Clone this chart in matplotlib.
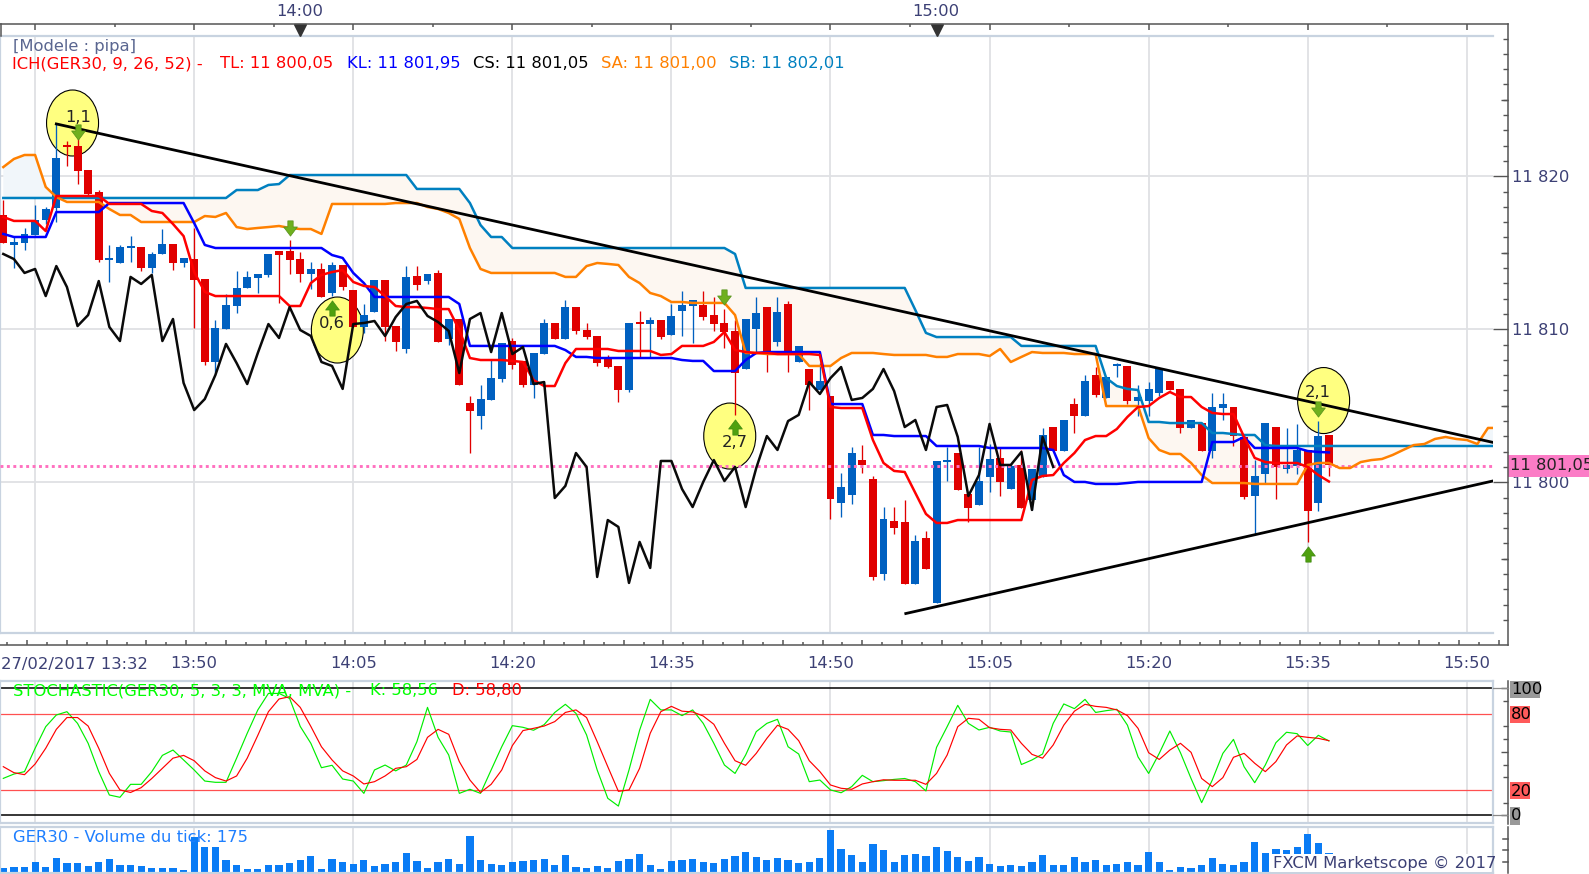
import numpy as np
import matplotlib
matplotlib.use("Agg")
import matplotlib.pyplot as plt
from matplotlib.lines import Line2D
from matplotlib.patches import Ellipse, Rectangle
from matplotlib.path import Path

plt.rcParams['font.family'] = ['DejaVu Sans']

W, H = 1589, 874
BASE = 11800

# Candles (points above 11 800); index 0 = 13:32, one bar per minute
opens = [17.47,15.51,15.64,16.16,17.14,17.93,21.98,21.98,20.41,18.97,14.53,14.33,15.31,15.38,14.00,14.92,15.57,14.33,14.59,13.28,
 7.86,10.02,11.52,12.70,13.35,13.55,15.12,15.12,14.59,13.61,13.94,12.37,14.20,12.57,10.15,11.13,13.22,10.21,8.71,13.48,
 13.15,13.68,9.36,10.67,5.18,4.33,5.38,6.75,9.23,7.93,6.36,8.38,10.41,9.36,11.45,9.95,9.56,8.19,7.60,6.03,
 10.47,10.34,10.60,9.62,11.19,11.52,11.59,10.93,10.41,9.89,7.40,10.02,11.45,9.17,11.65,7.86,7.40,6.03,5.64,-1.36,
 -0.83,1.45,0.21,-6.00,-2.53,-2.60,-6.65,-3.64,-7.89,1.32,1.91,-0.77,-1.49,0.34,1.59,-0.44,1.13,-1.16,0.34,3.61,
 2.04,5.11,4.33,7.01,5.51,7.60,7.60,5.31,5.31,5.83,6.62,6.10,3.55,3.87,2.04,4.85,4.92,2.96,-0.90,0.54,
 3.61,0.87,1.06,2.11,-1.36,3.09]
closes = [15.64,15.70,16.23,17.14,17.86,21.19,21.91,20.34,18.84,14.53,14.59,15.38,15.38,14.00,14.92,15.57,14.33,14.66,13.22,7.86,
 10.08,11.59,12.70,13.42,13.61,14.92,14.85,14.53,13.61,13.94,12.11,14.20,12.76,10.15,10.93,13.22,10.15,9.17,13.42,12.89,
 13.61,9.17,10.67,6.36,4.66,5.44,6.81,9.10,7.66,6.36,8.45,10.41,9.36,11.45,9.89,9.49,7.79,7.53,6.03,10.41,
 10.34,10.60,9.49,10.87,11.59,11.91,10.80,10.34,9.82,7.14,10.67,11.06,8.51,11.13,8.51,8.91,6.36,6.62,-1.09,-0.31,
 1.91,1.13,-6.19,-2.40,-2.99,-6.65,-3.84,-5.67,1.39,1.39,-0.51,-1.68,0.08,1.52,0.02,1.06,-1.68,0.87,3.09,2.04,
 4.07,4.33,6.62,5.70,6.88,7.66,5.31,5.57,6.10,7.40,6.03,3.55,4.07,2.04,4.92,5.11,3.02,-0.96,0.41,3.87,
 1.00,1.13,2.11,-1.88,3.02,1.13]
highs = [18.45,16.03,16.62,18.12,17.99,23.41,22.30,22.83,20.41,19.10,15.51,15.51,16.09,15.38,15.05,16.55,15.57,14.66,16.62,13.28,
 10.60,12.30,13.81,13.81,13.61,14.92,15.12,15.83,15.05,14.40,14.33,14.40,14.20,12.57,11.65,13.22,13.22,10.21,14.13,14.13,
 13.61,13.87,10.67,10.67,5.64,6.36,7.99,9.10,9.43,7.93,8.45,10.67,10.41,11.91,11.45,10.41,9.56,8.32,7.60,10.41,
 11.19,10.80,10.60,11.65,12.50,11.91,12.50,12.11,11.32,10.60,10.67,12.11,11.45,12.11,11.85,8.91,7.40,7.79,5.64,0.60,
 2.30,2.43,0.41,-1.62,-1.62,-1.16,-3.45,-3.19,1.39,2.30,1.91,-0.77,2.30,2.50,2.30,1.26,2.11,0.87,3.55,3.61,
 4.07,5.51,7.01,7.53,6.88,7.79,7.60,6.36,6.55,7.40,6.62,6.10,4.07,3.87,5.83,5.83,4.92,2.96,1.45,3.87,
 3.61,3.55,3.81,2.11,4.00,3.09]
lows = [15.64,14.00,15.18,16.16,16.88,17.01,20.67,19.49,18.64,14.40,13.09,14.33,14.40,13.81,13.68,14.92,13.87,14.07,10.08,7.66,
 7.14,10.02,11.06,12.70,12.37,13.42,11.72,13.61,13.09,12.63,12.11,12.17,12.57,10.15,9.76,11.13,9.23,8.58,8.45,12.57,
 12.96,9.17,8.97,6.36,1.91,3.48,5.38,6.55,7.40,6.23,5.51,8.38,9.36,9.36,9.69,9.36,7.60,7.47,5.25,5.90,
 8.12,8.12,9.36,9.62,9.56,9.10,10.60,9.89,8.77,4.40,7.40,8.45,7.21,8.91,7.21,7.86,4.72,6.03,-2.40,-2.27,
 -1.42,0.60,-6.39,-6.39,-3.38,-6.65,-6.65,-5.67,-7.89,0.08,-0.51,-2.60,-1.49,-0.64,-0.90,-0.44,-1.68,-1.81,0.34,2.04,
 2.04,3.22,4.33,5.57,5.51,6.88,5.11,4.33,4.33,5.64,6.03,3.22,3.55,2.04,1.59,4.07,2.37,-1.09,-3.38,-0.05,
 -1.09,0.60,0.54,-3.90,-1.88,0.41]

# Ichimoku lines (points above 11 800)
tenkan = [17.34,17.08,17.08,17.08,16.42]+[18.71]*5+[18.19]*4+[17.73,17.60,16.88,16.09,13.74,12.44]+[12.17]*7+[11.52,11.52,13.02,13.55,13.74,13.87,13.09,12.83,12.76,12.17,11.52,11.45,11.45,11.39,11.32,11.32,9.95,8.12,7.99,7.99,7.99,7.93,7.86,6.68,6.29,6.29,7.79]+[8.71]*4+[8.58]*4+[8.32,8.38,8.91,8.91,8.91,9.17,9.82,8.64,8.51,8.45,8.45,8.38,8.38,8.38,8.38,8.32,4.92,4.85,4.85,4.85,2.76,1.26,0.74,0.67,-0.70,-2.07,-2.66,-2.66]+[-2.47]*7+[0.15,0.41,0.47,1.26,1.91,2.76,3.02,3.02,3.48,4.27,4.92,4.98,5.51,5.90,5.57,5.57,4.92,4.53,4.46,4.46,2.96,1.59,1.32,1.26,1.26,1.26,1.00,0.47,0.05]
kijun = [16.23]+[16.03]*4+[17.66]*5+[18.25]*8+[16.94,15.51]+[15.31]*11+[14.85,14.66,13.68,13.02]+[12.11]*8+[11.65]+[8.91]*9+[8.64,8.19,8.19,8.12]+[8.12]*7+[7.99,7.93,7.93,7.27,7.27,7.27,7.99,8.45]+[8.51]*6+[5.11]*4+[3.09,3.09]+[3.02]*4+[2.37]*5+[2.24]*6+[2.11,0.47,0.02,0.02,-0.11,-0.11,-0.11,-0.05]+[0.02]*7+[2.63,2.63,2.63,2.96]+[2.24]*5+[2.04,1.98,1.95]
chikou = [14.92,14.59,13.68,13.94,12.17,14.13,12.76,10.21,10.93,13.15,10.15,9.23,13.42,12.96,13.55,9.23,10.67,6.49,4.72,5.44,7.01,9.04,7.79,6.42,8.45,10.34,9.43,11.45,9.95,9.56,7.86,7.60,6.10,10.34,10.41,10.54,9.56,10.80,11.65,11.85,10.87,10.47,9.89,7.14,10.67,11.06,8.51,11.06,8.38,8.84,6.42,6.55,-1.03,-0.24,1.91,1.00,-6.19,-2.47,-2.92,-6.58,-3.90,-5.60,1.39,1.39,-0.44,-1.62,0.02,1.45,0.08,1.00,-1.62,0.93,3.02,2.11,4.00,4.40,6.55,5.77,6.81,7.53,5.38,5.51,6.10,7.40,5.96,3.61,4.07,2.11,4.92,5.05,2.96,-0.90,0.47,3.81,1.13,1.13,1.98,-1.81,2.96,1.00]
senkou_a = [20.60,21.13,21.39,21.39,19.30,18.64]+[18.32]*4+[17.86,17.47,17.47]+[17.01]*6+[17.40,17.34,17.60,16.68,16.55,16.62,16.68,16.75,16.62,16.55,16.55,16.23]+[18.19]*6+[18.25]*3+[17.99,17.86,17.60,17.21,15.31,13.94]+[13.68]*7+[13.42,13.42,14.13,14.33,14.27,14.20,13.42,13.02,12.37,12.17,11.78,11.78]+[11.72]*4+[10.93,8.45,8.45]+[8.38]*4+[7.60]*3+[8.12,8.45,8.45,8.45,8.38]+[8.32]*4+[8.19,8.19,8.38,8.38,8.38,8.25,8.71,7.86,8.19,8.51,8.45,8.45,8.45,8.38,8.38,8.38]+[4.98]*4+[2.89,2.11,1.85,1.85,1.26,0.47]+[-0.05]*4+[-0.11]*5+[1.13,1.26,1.26,0.93,0.93,1.32,1.45,1.52,1.78,2.11,2.43,2.50,2.83,2.96,2.83,2.76,2.50,3.55,3.55]
senkou_b = [18.58]*22+[19.10]*3+[19.43,19.49]+[20.08]*12+[19.17]*5+[18.25,16.81,16.03,16.03]+[15.31]*21+[14.92]+[12.70]*16+[11.26,9.76]+[9.49]*8+[8.91]*8+[6.81,6.29,6.10,6.03,3.94,3.94]+[3.87]*4+[3.22,3.22,3.15,3.09,3.09,2.43]+[2.37]*22

current_price = 11801.05
trend_upper_t, trend_upper_v = [5, 140.44], [23.42, 2.61]
trend_lower_t, trend_lower_v = [85.1, 140.44], [-8.58, 0.08]

# Signal bubbles and arrows
bubble_t = [6.53, 31.5, 68.5, 124.5]
bubble_v = [23.48, 9.95, 3.02, 5.34]
bubble_labels = ["1,1", "0,6", "2,7", "2,1"]
arrow_down_t = [7, 27, 68, 124]
arrow_down_v = [22.89, 16.62, 12.11, 4.79]
arrow_up_t = [31, 69, 123]
arrow_up_v = [11.39, 3.61, -4.69]

# Stochastic
stoch_k = [29.1,32.5,34.4,52.8,69.8,79,81.6,72.4,56.7,34.4,16,14.2,24.4,24.4,34.4,47.2,51.4,43.6,35.7,27,26,26,45,64.6,83,96,96,92,70,56.7,37.5,39.4,28.6,27,17.3,35.7,39.6,35,39.6,58,85,61.4,47.5,17.3,20.5,17.3,35.7,54,70.6,69.3,
 67,71.4,81,87.4,80.3,63.3,35.7,13.4,7.3,35.7,67,91.3,83,83,78.5,83,72.4,56.7,39.6,33,47.5,65.9,72.4,75.6,54,48.3,26.5,27.8,20,17.8,22.6,31.5,26.5,27.3,28.3,29,26.5,19.2,53.5,69.8,86.6,72.4,67.2,69.3,66.4,65.6,40,43.6,48.3,72.4,
 87.7,84,91.3,81,82.4,83.5,71,46,33,48.8,66.4,49.3,29,10,27.8,48.8,59.8,38.3,25.7,39.6,57.2,65.4,64.3,55,63,58.56]
stoch_d = [38.3,33.6,32,40.4,52.8,67.7,77,77,70.3,52.8,33,20,18,21.8,29,37,45,47.2,43,35,29.7,27,31,45,63,81.6,91.6,93.4,85,70,54,43.6,35,31,24.7,26.5,31,37,38.3,44,61.4,67.7,63.8,42.3,27.8,18,24.4,35.7,54.9,66.7,
 68.5,70.3,73.8,81,83,77,58,38.3,18.9,20,37,64.6,81.6,85.8,82,81.4,78.2,71.7,56.7,43,39.4,48.8,60.6,70.9,67.7,58.8,43,34.4,23.9,21.3,20.5,24.7,26.5,28,27.6,27.6,27.6,24.4,33,47.5,69.8,76.4,75.6,69,67.7,67.2,56.7,48,45,55.4,
 71,82,87.4,85.8,85,83,78.5,68.5,49.3,44,51.4,56.7,49.6,29,22.6,29.7,45.7,48.8,41,34.4,42.3,55.4,62.5,61.4,60.6,58.80]

# Tick volume
volume = [12,15,15,30,15,42,27,27,18,30,39,21,21,18,12,12,12,6,105,75,75,36,21,9,9,21,21,27,36,48,9,39,30,24,36,18,24,30,57,33,12,30,39,24,108,36,24,21,30,33,
 36,39,21,51,15,12,18,12,33,39,54,21,9,33,36,39,30,27,39,48,60,45,36,42,36,27,30,42,126,69,51,30,84,66,30,51,54,48,75,63,45,33,45,24,18,21,18,30,51,21,
 21,45,30,36,21,24,30,21,60,30,6,15,12,21,42,24,21,30,90,57,69,66,75,114,87,57]

time_labels = ["13:50","14:05","14:20","14:35","14:50","15:05","15:20","15:35","15:50"]
time_label_pos = [18,33,48,63,78,93,108,123,138]

X0, DX = 3.3, 10.605
def t_at(px): return (px - X0) / DX
XL = (t_at(0), t_at(1493))
LABEL = '#3c4075'; FRAME = '#c8d3e0'; GRID = '#dfe1e4'; AXC = '#555555'
RED = '#e00000'; BLUE = '#0060c0'; CYAN = '#0080c0'; ORANGE = '#ff8000'
FS = 11.8

fig = plt.figure(figsize=(W/100, H/100), dpi=100, facecolor='white')

def panel(left, top, right, bottom, frame=True):
    ax = fig.add_axes([left/W, 1-bottom/H, (right-left)/W, (bottom-top)/H])
    ax.set_facecolor('white')
    for s in ax.spines.values():
        s.set_visible(frame); s.set_color(FRAME); s.set_linewidth(1.6)
    ax.tick_params(bottom=False, left=False, labelbottom=False, labelleft=False)
    return ax

def T(x, y, s, **kw):
    kw.setdefault('va', 'center'); kw.setdefault('fontsize', FS)
    return fig.text(x/W, 1-y/H, s, **kw)

def fig_line(x0, y0, x1, y1, **kw):
    kw.setdefault('color', AXC); kw.setdefault('lw', 1.1)
    fig.add_artist(Line2D([x0/W, x1/W], [1-y0/H, 1-y1/H], transform=fig.transFigure, **kw))

def box(x0, y0, x1, y1, color):
    fig.add_artist(Rectangle((x0/W, 1-y1/H), (x1-x0)/W, (y1-y0)/H, transform=fig.transFigure, fc=color, ec='none'))

grid_t = np.arange(3, 140, 15)

# ---------- main panel ----------
ax = panel(0, 36, 1493, 632.7)
ax.set_xlim(*XL)
ax.set_ylim(BASE + 31.52 - 0.06536*632.7, BASE + 31.52 - 0.06536*36)
ax.vlines(grid_t, *ax.get_ylim(), color=GRID, lw=1.3, zorder=0.5)
ax.hlines([11800, 11810, 11820], *XL, color=GRID, lw=1.3, zorder=0.5)

sa = BASE + np.array(senkou_a); sb = BASE + np.array(senkou_b)
tc = np.arange(len(sa)); n = min(len(sa), len(sb))
ax.fill_between(tc[:n], sa[:n], sb[:n], where=sa[:n] >= sb[:n], interpolate=True, color='#f1f6fa', lw=0, zorder=1)
ax.fill_between(tc[:n], sa[:n], sb[:n], where=sa[:n] <= sb[:n], interpolate=True, color='#fdf7f1', lw=0, zorder=1)

for t0, v0, lab in zip(bubble_t, bubble_v, bubble_labels):
    ax.add_patch(Ellipse((t0, BASE+v0), 52/DX, 66*0.06536, fc='#ffff80', ec='black', lw=0.8, zorder=2))

o, c, h, l = [BASE + np.array(a) for a in (opens, closes, highs, lows)]
idx = np.arange(len(o))
col = [BLUE if cc >= oo else RED for oo, cc in zip(o, c)]
ax.vlines(idx, l, h, colors=col, lw=0.95, zorder=3)
top = np.maximum(o, c); bot = np.minimum(o, c)
hgt = np.maximum(top-bot, 0.12)
ax.bar(idx, hgt, bottom=bot, width=0.75, color=col, lw=0, zorder=3)

ax.axhline(current_price, color='#ff70c0', lw=2.1, ls=(0, (1.0, 1.2)), zorder=4)
ax.plot(tc[:len(sb)], sb, color=CYAN, lw=1.8, zorder=5)
ax.plot(np.arange(len(sa)), sa, color=ORANGE, lw=1.8, zorder=5)
ax.plot(np.arange(len(kijun)), BASE+np.array(kijun), color='#0000ff', lw=1.8, zorder=5)
ax.plot(np.arange(len(tenkan)), BASE+np.array(tenkan), color='#ff0000', lw=1.8, zorder=5)
ax.plot(np.arange(len(chikou)), BASE+np.array(chikou), color='#0a0a0a', lw=1.8, zorder=6)
ax.plot(trend_upper_t, BASE+np.array(trend_upper_v), color='black', lw=2.0, zorder=7)
ax.plot(trend_lower_t, BASE+np.array(trend_lower_v), color='black', lw=2.0, zorder=7)

down = Path([(-.35,1),(.35,1),(.35,.2),(.9,.2),(0,-1),(-.9,.2),(-.35,.2),(-.35,1)], closed=True)
up = Path([(-.35,-1),(.35,-1),(.35,-.2),(.9,-.2),(0,1),(-.9,-.2),(-.35,-.2),(-.35,-1)], closed=True)
ax.plot(arrow_down_t, BASE+np.array(arrow_down_v), ls='', marker=down, ms=11, mfc='#6fb01e', mec='#55901a', mew=0.5, zorder=8)
ax.plot(arrow_up_t, BASE+np.array(arrow_up_v), ls='', marker=up, ms=11, mfc='#4fa00f', mec='#3f8a10', mew=0.5, zorder=8)

# medium ticks sit on a twin; twinx() moves the parent's ticks left, so set the parent afterwards
ax5 = ax.twinx(); ax5.set_ylim(ax.get_ylim())
for s in ax5.spines.values(): s.set_visible(False)
ax5.spines['right'].set_position(('outward', 10.8))
ax5.set_yticks([11795, 11805, 11815, 11825]); ax5.set_yticklabels([])
ax5.tick_params(axis='y', direction='in', length=5.4, width=1, color=AXC)

ax.yaxis.tick_right()
ax.spines['right'].set_position(('outward', 10.8))
ax.spines['right'].set_visible(False)
ax.set_yticks([11800, 11810, 11820])
ax.set_yticklabels(['11 800', '11 810', '11 820'], color=LABEL, fontsize=FS)
ax.set_yticks(np.arange(11791, 11830, 1), minor=True)
ax.tick_params(axis='y', which='major', left=False, labelleft=False, right=True, labelright=True, direction='in', length=10.8, width=1, color=AXC, pad=3)
ax.tick_params(axis='y', which='minor', left=False, right=True, direction='in', length=3.4, width=1, color=AXC)

# bubble text in figure layer
for (x, y), lab in zip([(78,117),(332,323),(735,442),(1318,393)], bubble_labels):
    T(x, y, lab, ha='center', color='#222222')

# ---------- rulers ----------
rt = panel(0, 23.5, 1508, 36, frame=False); rt.patch.set_alpha(0)
rt.set_xlim(t_at(0), t_at(1508)); rt.set_ylim(12.5, 0)
rt.set_xticks([]); rt.set_yticks([])
rt.vlines(np.arange(3, 142, 15), 0, 6, color=AXC, lw=1.1)
rt.vlines(np.arange(10.5, 142, 15), 0, 3, color=AXC, lw=1.1)
rt.plot([28, 88], [6, 6], ls='', marker='v', ms=9, color='#333333', clip_on=False)
fig_line(0, 23.5, 1508, 23.5); fig_line(0.7, 23.5, 0.7, 36)
T(300, 11, '14:00', ha='center', color=LABEL)
T(936, 11, '15:00', ha='center', color=LABEL)

rb = panel(0, 633, 1508, 645, frame=False); rb.patch.set_alpha(0)
rb.set_xlim(t_at(0), t_at(1508)); rb.set_ylim(0, 12)
rb.set_xticks([]); rb.set_yticks([])
all_t = np.arange(-1.5, 142, 1.875)
for k, t in enumerate(all_t):
    rel = (t - 3) / 15
    if abs(rel - round(rel)) < 1e-6:
        ln = 12
    elif k % 2 == 0:
        ln = 5.5
    else:
        ln = 3
    rb.vlines(t, 0, ln, color=AXC, lw=1.1)
fig_line(0, 645, 1508, 645); fig_line(1507.7, 23.5, 1507.7, 645)
T(1, 664, '27/02/2017 13:32', color=LABEL)
for p, s in zip(time_label_pos, time_labels):
    T(X0 + DX*p, 664, s, ha='center', color=LABEL)

# ---------- stochastic ----------
st = panel(0, 680.7, 1493, 822.7)
st.set_xlim(*XL); st.set_ylim(-5.8, 106)
st.vlines(grid_t, -5.8, 106, color=GRID, lw=1.3, zorder=0.5)
st.axhline(100, color='black', lw=1.1); st.axhline(0, color='black', lw=1.1)
st.axhline(80, color='#ff5050', lw=0.9); st.axhline(20, color='#ff5050', lw=0.9)
st.plot(np.arange(len(stoch_k)), stoch_k, color='#00ee00', lw=0.85, zorder=3)
st.plot(np.arange(len(stoch_d)), stoch_d, color='#ff0000', lw=0.85, zorder=4)
sa2 = st.twinx(); sa2.set_ylim(st.get_ylim())
for s in sa2.spines.values(): s.set_visible(False)
sa2.spines['right'].set_position(('outward', 10.8))
sa2.set_yticks([10, 30, 40, 60, 70, 90]); sa2.set_yticklabels([])
sa2.set_yticks([50, 0, 100], minor=True)
sa2.tick_params(axis='y', which='major', direction='in', length=3.6, width=1, color=AXC)
sa2.tick_params(axis='y', which='minor', direction='in', length=5.4, width=1, color=AXC)
st.tick_params(axis='y', left=False, right=False, labelleft=False, labelright=False)
fig_line(1507.7, 680.7, 1507.7, 824)
fig_line(1493, 688.3, 1507.7, 688.3, color='#888888', lw=0.9)
fig_line(1493, 815.3, 1507.7, 815.3, color='#888888', lw=0.9)
box(1510, 680.7, 1540, 698, '#999999'); T(1511, 689.5, '100', color='black')
box(1510, 706, 1530, 722.7, '#ff5a5a'); T(1511, 714.5, '80', color='black')
box(1510, 782.3, 1530, 799.3, '#ff5a5a'); T(1511, 791, '20', color='black')
box(1510, 807.3, 1520, 824.7, '#999999'); T(1511, 816, '0', color='black')
T(13, 690.7, 'STOCHASTIC(GER30, 5, 3, 3, MVA, MVA) -', color='#00ff00')
T(370, 690.7, 'K: 58,56', color='#00ff00')
T(452, 690.7, 'D: 58,80', color='#ff0000')

# ---------- volume ----------
vo = panel(0, 827.3, 1493, 872.7)
vo.set_xlim(*XL); vo.set_ylim(-2, 134)
vo.vlines(grid_t, -2, 134, color=GRID, lw=1.3, zorder=0.5)
vo.bar(np.arange(len(volume)), volume, width=0.68, color='#0a7cf5', lw=0, zorder=2)
vo.add_patch(Rectangle((t_at(1271), 0), t_at(1491)-t_at(1271), 54, fc='white', ec='none', zorder=3))
fig_line(1507.7, 827.3, 1507.7, 873)
for y in (838.7, 850.3, 862.3):
    fig_line(1502.7, y, 1507.7, y)
T(13, 837, 'GER30 - Volume du tick: 175', color='#1e7fff')
T(1272.6, 863, 'FXCM Marketscope © 2017', color=LABEL)

# ---------- header and price tag ----------
T(13, 46, '[Modele : pipa]', color='#5a6690')
T(12, 64, 'ICH(GER30, 9, 26, 52) -', color='#ff0000')
T(220, 64, 'TL: 11 800,05', color='#ff0000')
T(347, 64, 'KL: 11 801,95', color='#0000ff')
T(473, 64, 'CS: 11 801,05', color='black')
T(601, 64, 'SA: 11 801,00', color=ORANGE)
T(729, 64, 'SB: 11 802,01', color=CYAN)
box(1507.7, 455, 1589, 477, '#fb7cc6')
T(1510, 466, '11 801,05', color='#222222')

fig.savefig('out.png', dpi=100, facecolor='white')
